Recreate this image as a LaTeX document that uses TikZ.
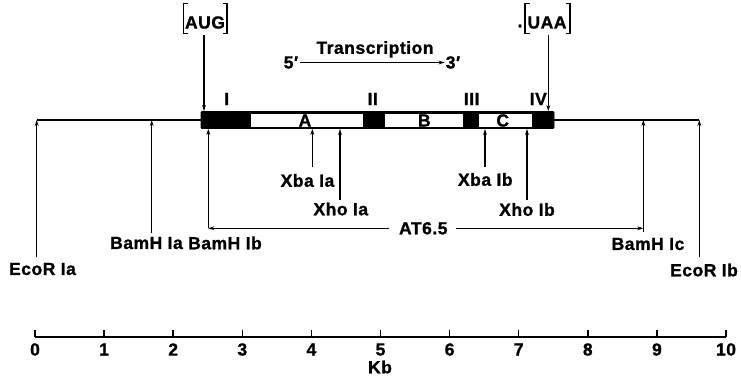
\documentclass[tikz,border=0pt]{standalone}
\usepackage{fontspec}
\setmainfont{Liberation Sans}[LetterSpace=3,BoldFeatures={FakeBold=1.2}]
\usetikzlibrary{arrows.meta,calc}
\begin{document}
\begin{tikzpicture}[x=1pt,y=-1pt,
  lbl/.style={font=\bfseries\fontsize{17.5}{17.5}\selectfont, inner sep=0pt},
  ln/.style={line width=1.5pt},
  arr/.style={ln,-{Stealth[length=6pt,width=3.8pt]}},
  exonbar/.style={draw=black,fill=black,line width=0.8pt,minimum width=353pt,minimum height=17pt,inner sep=0pt,rounded corners=1pt},
  intron/.style={fill=white,minimum height=12.5pt,inner sep=0pt},
  brk/.style={line width=1.3pt}
]
\useasboundingbox (0,0) rectangle (741,377);

% gene bar
\node[exonbar] (bar) at (377.5,120) {};
\node[intron,minimum width=112pt] (exA) at (307,120.3) {};
\node[intron,minimum width=78pt] (exB) at (424,120.3) {};
\node[intron,minimum width=53pt] (exC) at (505.5,120.3) {};
\node[lbl] (tA) at (305,120.5) {A};
\node[lbl] (tB) at (424.3,120.5) {B};
\node[lbl] (tC) at (502.7,120.5) {C};

% exon numerals
\node[lbl] (r1) at (226.7,99) {I};
\node[lbl] (r2) at (372.7,99) {II};
\node[lbl] (r3) at (471.7,99) {III};
\node[lbl] (r4) at (538.3,99) {IV};

% flanking line
\coordinate (ea) at (36.7,120);
\coordinate (eb) at (699.3,120);
\draw[ln] (ea) -- (bar.west);
\draw[ln] (bar.east) -- (eb);

% AUG / UAA
\node[lbl] (aug) at (205,22.5) {AUG};
\draw[brk] (188,3.5) -- (183.5,3.5) -- (183.5,33.5) -- (188,33.5);
\draw[brk] (222.5,3.5) -- (227,3.5) -- (227,33.5) -- (222.5,33.5);
\coordinate (augS) at (204,35);
\draw[arr] (augS) -- (augS |- bar.north);
\node[lbl] (uaa) at (547,22.5) {UAA};
\node[lbl] (dot) at (520,26) {.};
\draw[brk] (529.5,3.5) -- (525,3.5) -- (525,33.5) -- (529.5,33.5);
\draw[brk] (565.5,3.5) -- (570,3.5) -- (570,33.5) -- (565.5,33.5);
\coordinate (uaaS) at (548.3,35);
\draw[arr] (uaaS) -- (uaaS |- bar.north);

% transcription
\node[lbl] (tr) at (375,49.3) {Transcription};
\node[lbl] (p5) at (291,62.5) {5′};
\node[lbl] (p3) at (453,62.5) {3′};
\draw[arr] ([xshift=2pt]p5.east) -- ([xshift=-1pt]p3.west);

% restriction sites
\node[lbl] (ecoa) at (42.5,269) {EcoR Ia};
\coordinate (ecoaB) at (36.7,257);
\draw[arr] (ecoaB) -- (ea);

\node[lbl] (bama) at (146.5,243) {BamH Ia};
\coordinate (bamaB) at (151.7,233);
\draw[arr] (bamaB) -- (bamaB |- ea);

\node[lbl] (bamb) at (225,243) {BamH Ib};
\coordinate (bambB) at (208.3,228.3);
\draw[arr] (bambB) -- (bambB |- bar.south);

\node[lbl] (xbaa) at (307.5,180.5) {Xba Ia};
\coordinate (xbaaB) at (312.3,167);
\draw[arr] (xbaaB) -- (xbaaB |- bar.south);

\node[lbl] (xhoa) at (340.8,209) {Xho Ia};
\coordinate (xhoaB) at (340,200);
\draw[arr] (xhoaB) -- (xhoaB |- bar.south);

\node[lbl] (xbab) at (485.3,179.5) {Xba Ib};
\coordinate (xbabB) at (485,167);
\draw[arr] (xbabB) -- (xbabB |- bar.south);

\node[lbl] (xhob) at (527,209.5) {Xho Ib};
\coordinate (xhobB) at (527,200);
\draw[arr] (xhobB) -- (xhobB |- bar.south);

\node[lbl] (bamc) at (648,244) {BamH Ic};
\coordinate (bamcB) at (643.3,232);
\draw[arr] (bamcB) -- (bamcB |- eb);

\node[lbl] (ecob) at (704,270) {EcoR Ib};
\coordinate (ecobB) at (699.3,257);
\draw[arr] (ecobB) -- (eb);

% AT6.5
\node[lbl] (at) at (423.3,228.3) {AT6.5};
\coordinate (bamcM) at (643.3,228.3);
\draw[arr] ([xshift=-10pt]at.west) -- (bambB);
\draw[arr] ([xshift=8pt]at.east) -- (bamcM);

% scale
\coordinate (s0) at (35,337);
\coordinate (s10) at (726,337);
\draw[line width=1.7pt] (s0) -- (s10);
\foreach \i in {0,...,10} {
  \draw[line width=1.5pt] ($(s0)!\i/10!(s10)$) -- ++(0,-7);
  \node[lbl] (n\i) at ($(s0)!\i/10!(s10)+(0,12.5)$) {\i};
}
\node[lbl] (kb) at (380,367) {Kb};
\end{tikzpicture}
\end{document}
